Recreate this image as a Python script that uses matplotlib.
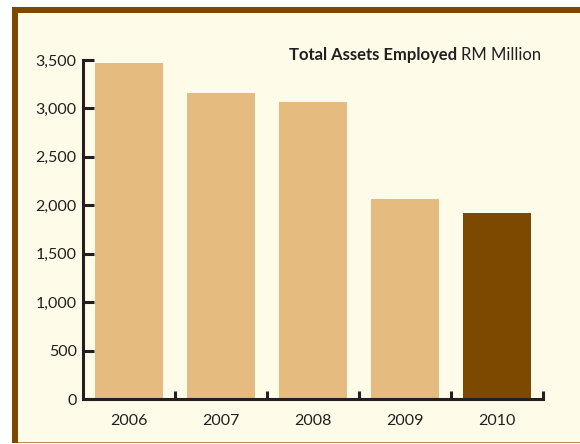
import matplotlib
matplotlib.use("Agg")
import matplotlib.pyplot as plt
from matplotlib.patches import Rectangle
from matplotlib.ticker import FuncFormatter, MultipleLocator, FixedLocator

# data
years = ["2006", "2007", "2008", "2009", "2010"]
assets = [3470, 3160, 3065, 2065, 1920]
bar_colors = ["#e5bb80", "#e5bb80", "#e5bb80", "#e5bb80", "#7b4a00"]

W, H = 580, 444
ink = "#231f20"

fig = plt.figure(figsize=(W / 100, H / 100), dpi=100)
fig.patch.set_facecolor("white")

def px_rect(x0, y0, x1, y1, color):
    # rectangle given in pixel coords from top-left
    fig.patches.append(Rectangle((x0 / W, 1 - y1 / H), (x1 - x0) / W, (y1 - y0) / H,
                                 transform=fig.transFigure, facecolor=color,
                                 edgecolor="none", zorder=-5))

px_rect(12, 7, 580, 443, "#7b4a00")      # brown border
px_rect(18, 13, 580, 442, "#fffbe9")     # cream panel
px_rect(18, 442, 580, 443, "#a8905f")    # thin line at bottom

ax = fig.add_axes([83 / W, 45 / H, 460 / W, 339 / H])
ax.set_zorder(2)
ax.patch.set_alpha(0)

x = range(len(years))
ax.bar(x, assets, width=0.73, color=bar_colors, zorder=1)

ax.set_xlim(-0.5, len(years) - 0.5)
ax.set_ylim(0, 3500)

for s in ["top", "right"]:
    ax.spines[s].set_visible(False)
for s in ["left", "bottom"]:
    ax.spines[s].set_color(ink)
    ax.spines[s].set_linewidth(2.2)
    ax.spines[s].set_zorder(3)

ax.yaxis.set_major_locator(MultipleLocator(500))
ax.yaxis.set_major_formatter(FuncFormatter(lambda v, p: f"{int(v):,}"))
ax.tick_params(axis="y", direction="in", length=8, width=2.2, color=ink,
               labelsize=11.5, labelcolor=ink, pad=4.5)

ax.set_xticks(list(x))
ax.set_xticklabels(years)
ax.xaxis.set_minor_locator(FixedLocator([i + 0.5 for i in x]))
ax.tick_params(axis="x", which="major", length=0, labelsize=11.5,
               labelcolor=ink, pad=10.5)
ax.tick_params(axis="x", which="minor", direction="in", length=5.5,
               width=2.2, color=ink)

for lab in ax.get_xticklabels() + ax.get_yticklabels():
    lab.set_fontfamily("Lato")

# title: bold part + regular part, right aligned
ty = 1 - 55 / H
t2 = fig.text(541 / W, ty, "RM Million", ha="right", va="center",
              fontsize=12, color=ink, family="Lato", zorder=3)
fig.canvas.draw()
bb = t2.get_window_extent()
fig.text((bb.x0 - 4) / W, ty, "Total Assets Employed", ha="right", va="center",
         fontsize=12, fontweight="bold", color=ink, family="Lato", zorder=3)

fig.savefig("out.png", dpi=100)
